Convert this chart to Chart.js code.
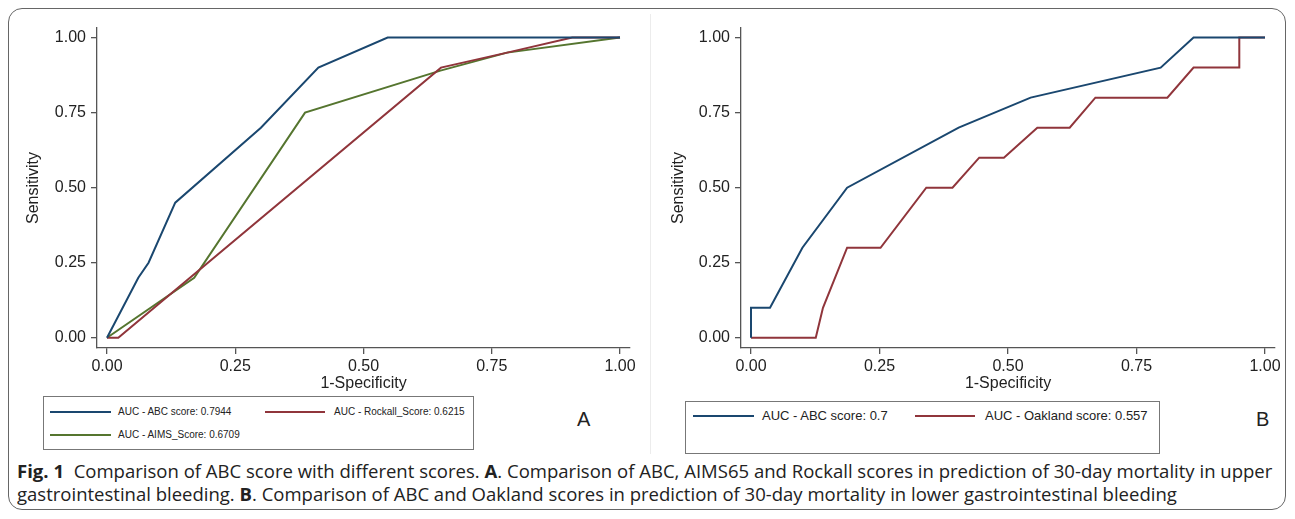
<!DOCTYPE html>
<html>
<head>
<meta charset="utf-8">
<script src="https://cdn.jsdelivr.net/npm/chart.js@4.4.1/dist/chart.umd.min.js"></script>
<style>
  body { margin: 0; background: #fff; width: 1295px; height: 519px; position: relative; overflow: hidden; font-family: "Liberation Sans", Arial, sans-serif; }
  .frame { position: absolute; left: 8px; top: 8px; width: 1278px; height: 502px; border: 1.5px solid #666; border-radius: 14px; box-sizing: border-box; }
  .divider { position: absolute; left: 650px; top: 14px; width: 1px; height: 440px; background: #ececec; }
  canvas { position: absolute; top: 0; }
  .legend { position: absolute; border: 1px solid #777; box-sizing: border-box; background: #fff; }
  .item { position: absolute; white-space: nowrap; color: #222; }
  .swatch { position: absolute; height: 2px; }
  .panel { position: absolute; font-size: 20px; color: #222; }
  .cap { position: absolute; left: 17px; font-family: "Open Sans", "Noto Sans", sans-serif; font-size: 18px; color: #222; white-space: nowrap; transform-origin: 0 50%; }
</style>
</head>
<body>
<div class="frame"></div>
<div class="divider"></div>
<canvas id="chartA" width="645" height="395" style="left:0px"></canvas>
<canvas id="chartB" width="645" height="395" style="left:650px"></canvas>
<div id="legends"></div>
<div class="panel" style="left:577px; top:408px">A</div>
<div class="panel" style="left:1256px; top:408px">B</div>
<div class="cap" id="cap1" style="top:459px"><b>Fig. 1</b>&nbsp; Comparison of ABC score with different scores. <b>A</b>. Comparison of ABC, AIMS65 and Rockall scores in prediction of 30-day mortality in upper</div>
<div class="cap" id="cap2" style="top:482px">gastrointestinal bleeding. <b>B</b>. Comparison of ABC and Oakland scores in prediction of 30-day mortality in lower gastrointestinal bleeding</div>
<script>
// tick values on both axes
const tickVals = [0, 0.25, 0.5, 0.75, 1];

// panel A: upper GI bleeding
const abcA_x = [0, 0.061, 0.081, 0.133, 0.30, 0.412, 0.547, 1];
const abcA_y = [0, 0.20, 0.25, 0.45, 0.70, 0.90, 1.00, 1];
const rockall_x = [0, 0.022, 0.651, 0.78, 0.907, 1];
const rockall_y = [0, 0, 0.90, 0.95, 1.00, 1];
const aims_x = [0, 0.17, 0.386, 0.65, 0.78, 1];
const aims_y = [0, 0.20, 0.75, 0.89, 0.95, 1];
const labelsA = ['AUC - ABC score: 0.7944', 'AUC - Rockall_Score: 0.6215', 'AUC - AIMS_Score: 0.6709'];

// panel B: lower GI bleeding
const abcB_x = [0, 0, 0.037, 0.10, 0.187, 0.404, 0.544, 0.797, 0.861, 1];
const abcB_y = [0, 0.1, 0.1, 0.30, 0.50, 0.70, 0.80, 0.90, 1.00, 1];
const oak_x = [0, 0.126, 0.14, 0.187, 0.252, 0.341, 0.392, 0.444, 0.492, 0.557, 0.62, 0.67, 0.81, 0.861, 0.95, 0.95, 1];
const oak_y = [0, 0, 0.1, 0.3, 0.3, 0.5, 0.5, 0.6, 0.6, 0.7, 0.7, 0.8, 0.8, 0.9, 0.9, 1.0, 1];
const labelsB = ['AUC - ABC score: 0.7', 'AUC - Oakland score: 0.557'];

const navy = '#1a476f', maroon = '#90353b', forest = '#55752f';
const axisCol = '#555';
const font = { family: '"Liberation Sans", Arial, sans-serif', size: 16 };

function pts(xs, ys) { return xs.map((x, i) => ({ x: x, y: ys[i] })); }

function ds(label, xs, ys, color) {
  return { label: label, data: pts(xs, ys), borderColor: color, backgroundColor: color,
           borderWidth: 2, pointRadius: 0, showLine: true, tension: 0 };
}

function makeChart(id, datasets, yWidth, rightPad, xPadPx, xSpan, yTitlePad) {
  return new Chart(document.getElementById(id), {
    type: 'scatter',
    data: { datasets: datasets },
    options: {
      responsive: false,
      animation: false,
      devicePixelRatio: 1,
      layout: { padding: { left: 0, top: 28, right: rightPad, bottom: 0 } },
      plugins: { legend: { display: false }, tooltip: { enabled: false } },
      scales: {
        x: {
          type: 'linear',
          min: -xPadPx / xSpan, max: 1 + xPadPx / xSpan,
          afterBuildTicks: s => { s.ticks = tickVals.map(v => ({ value: v })); },
          afterFit: s => { s.height = 47; },
          ticks: { font: font, color: '#222', padding: 3, maxRotation: 0, callback: v => v.toFixed(2) },
          grid: { display: true, drawOnChartArea: false, tickLength: 6, color: axisCol, lineWidth: 1.3 },
          border: { display: true, color: axisCol, width: 1.3 },
          title: { display: true, text: '1-Specificity', font: font, color: '#222', padding: { top: 0, bottom: 2 } }
        },
        y: {
          type: 'linear',
          min: -0.034, max: 1.032,
          afterBuildTicks: s => { s.ticks = tickVals.map(v => ({ value: v })); },
          afterFit: s => { s.width = yWidth; },
          ticks: { font: font, color: '#222', padding: 5, callback: v => v.toFixed(2) },
          grid: { display: true, drawOnChartArea: false, tickLength: 6, color: axisCol, lineWidth: 1.3 },
          border: { display: true, color: axisCol, width: 1.3 },
          title: { display: true, text: 'Sensitivity', font: font, color: '#222', padding: { top: yTitlePad, bottom: 0 } }
        }
      }
    }
  });
}

makeChart('chartA', [
  ds(labelsA[0], abcA_x, abcA_y, navy),
  ds(labelsA[1], rockall_x, rockall_y, maroon),
  ds(labelsA[2], aims_x, aims_y, forest)
], 97, 15, 10, 513, 24);

makeChart('chartB', [
  ds(labelsB[0], abcB_x, abcB_y, navy),
  ds(labelsB[1], oak_x, oak_y, maroon)
], 91, 20, 10, 514, 19);

// legends
function legendBox(box, items, fontSize) {
  let html = '<div class="legend" style="left:' + box[0] + 'px;top:' + box[1] + 'px;width:' + box[2] + 'px;height:' + box[3] + 'px"></div>';
  items.forEach(it => {
    html += '<div class="swatch" style="left:' + it.lx + 'px;top:' + (it.y - 1) + 'px;width:' + it.lw + 'px;background:' + it.color + '"></div>';
    html += '<div class="item" style="left:' + it.tx + 'px;top:' + (it.y - fontSize * 0.62) + 'px;font-size:' + fontSize + 'px">' + it.text + '</div>';
  });
  return html;
}
document.getElementById('legends').innerHTML =
  legendBox([43, 396, 431, 54], [
    { lx: 50, lw: 61, tx: 118, y: 412, color: navy, text: labelsA[0] },
    { lx: 265, lw: 60, tx: 334, y: 412, color: maroon, text: labelsA[1] },
    { lx: 50, lw: 61, tx: 118, y: 435, color: forest, text: labelsA[2] }
  ], 10) +
  legendBox([685, 401, 475, 53], [
    { lx: 693, lw: 61, tx: 762, y: 416, color: navy, text: labelsB[0] },
    { lx: 915, lw: 60, tx: 985, y: 416, color: maroon, text: labelsB[1] }
  ], 13);

// squeeze caption lines to the reference widths
[['cap1', 1255], ['cap2', 1160]].forEach(([id, w]) => {
  const el = document.getElementById(id);
  el.style.transform = 'scaleX(' + (w / el.scrollWidth) + ')';
});
</script>
</body>
</html>
